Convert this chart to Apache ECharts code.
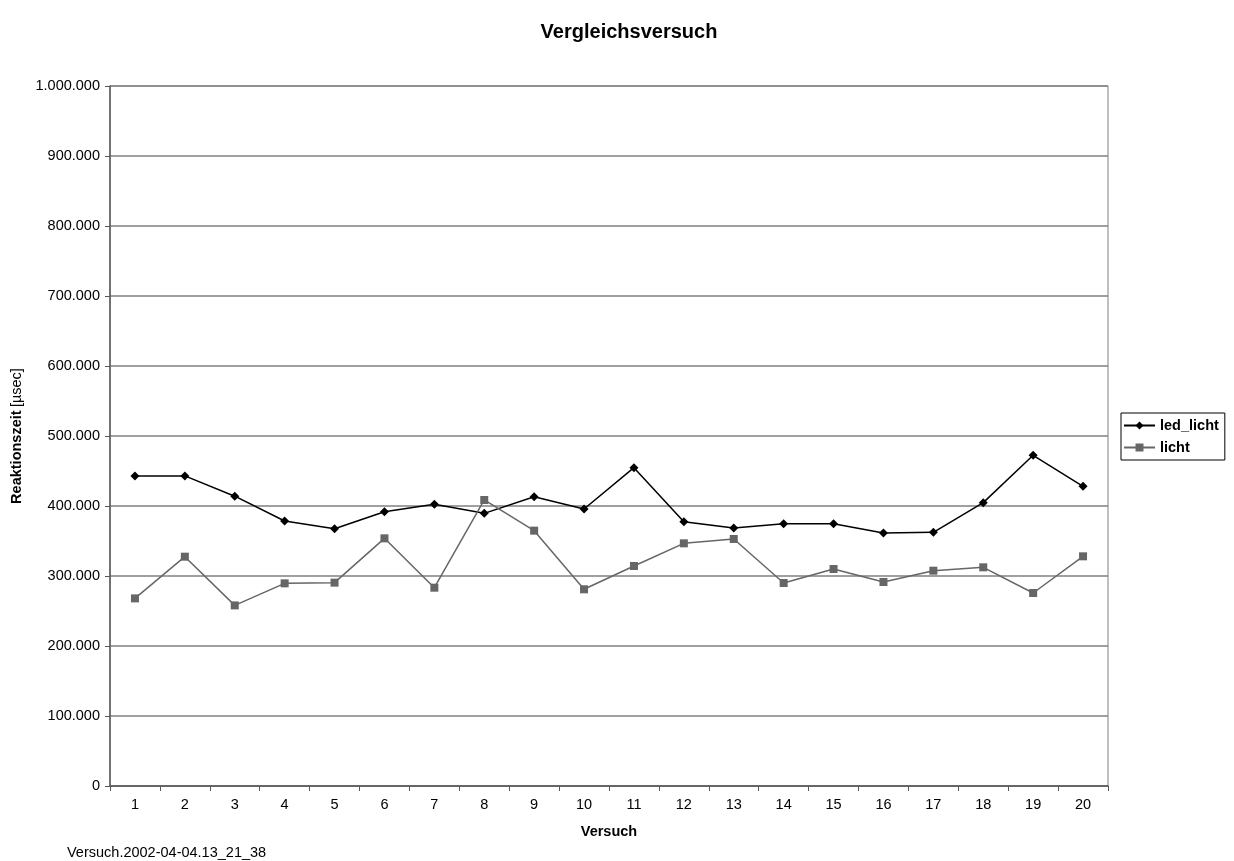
<!DOCTYPE html>
<html><head><meta charset="utf-8">
<script src="https://cdn.jsdelivr.net/npm/echarts@6/dist/echarts.min.js"></script>
<style>html,body{margin:0;padding:0;background:#fff}#c{width:1234px;height:861px}</style>
</head><body><div id="c"></div>
<script>
var categories = ['1','2','3','4','5','6','7','8','9','10','11','12','13','14','15','16','17','18','19','20'];
var ledLicht = [443000,443000,414000,378600,367600,391900,402400,389500,413300,395700,454800,377600,368600,374800,374800,361400,362400,404800,472400,428100];
var licht = [268000,327600,258000,289500,290500,353800,283300,408600,364800,281000,314300,346700,352900,290000,310000,291400,307600,312400,275700,328100];
var seriesNames = ['led_licht','licht'];

function fmt(v){ return String(v).replace(/\B(?=(\d{3})+(?!\d))/g,'.'); }

var chart = echarts.init(document.getElementById('c'));
var F = 'Liberation Sans, Arial, sans-serif';
var FS = 14.5;
chart.setOption({
  animation:false,
  backgroundColor:'#fff',
  title:{text:'Vergleichsversuch',left:624,top:17,textAlign:'center',
    textStyle:{fontFamily:F,fontSize:20,fontWeight:'bold',color:'#000'}},
  grid:{left:110,right:126,top:86,bottom:75,show:true,borderColor:'#808080',borderWidth:1,containLabel:false},
  legend:{orient:'vertical',left:1121,top:413,
    data:seriesNames,itemWidth:31,itemHeight:10,itemGap:7,
    padding:[5,6,5,2],borderColor:'#000',borderWidth:1,
    textStyle:{fontFamily:F,fontSize:FS,fontWeight:'bold',color:'#000'}},
  xAxis:{type:'category',data:categories,boundaryGap:true,
    name:'Versuch',nameLocation:'middle',nameGap:38,
    nameTextStyle:{fontFamily:F,fontSize:FS,fontWeight:'bold',color:'#000'},
    axisLine:{lineStyle:{color:'#595959',width:1.5}},
    axisTick:{show:true,length:5,inside:false,lineStyle:{color:'#595959'}},
    axisLabel:{fontFamily:F,fontSize:FS,color:'#000',margin:11},
    splitLine:{show:false}},
  yAxis:{type:'value',min:0,max:1000000,interval:100000,
    name:'{b|Reaktionszeit} {n|[µsec]}',nameLocation:'middle',nameGap:82,nameRotate:90,
    nameTextStyle:{rich:{b:{fontFamily:F,fontSize:FS,fontWeight:'bold',color:'#000'},n:{fontFamily:F,fontSize:FS,color:'#000'}}},
    axisLine:{show:true,lineStyle:{color:'#595959',width:1.5}},
    axisTick:{show:true,length:5,lineStyle:{color:'#595959'}},
    axisLabel:{fontFamily:F,fontSize:FS,color:'#000',margin:10,formatter:fmt},
    splitLine:{show:true,lineStyle:{color:'#808080',width:1.5}}},
  graphic:[{type:'text',left:67,top:845,style:{text:'Versuch.2002-04-04.13_21_38',font:FS+'px '+F,fill:'#000'}}],
  series:[
    {name:seriesNames[0],type:'line',data:ledLicht,symbol:'diamond',symbolSize:9,
     itemStyle:{color:'#000'},lineStyle:{color:'#000',width:1.5}},
    {name:seriesNames[1],type:'line',data:licht,symbol:'rect',symbolSize:8,
     itemStyle:{color:'#666666'},lineStyle:{color:'#666666',width:1.5}}
  ]
});
</script></body></html>
